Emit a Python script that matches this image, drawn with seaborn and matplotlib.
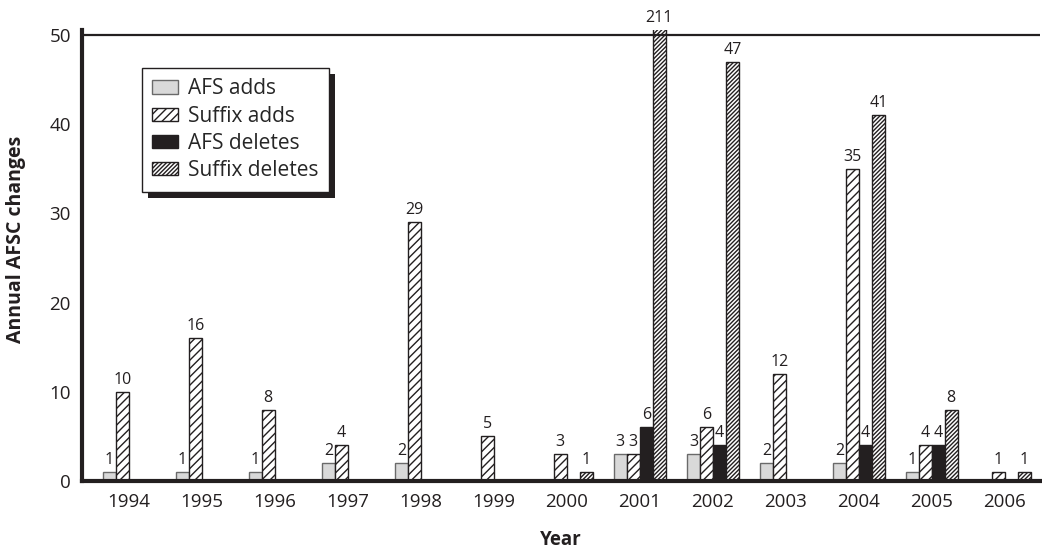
import pandas as pd
import numpy as np
import matplotlib
matplotlib.use('Agg')
import matplotlib.pyplot as plt
import matplotlib.patches as mpatches
import seaborn as sns

years = ['1994', '1995', '1996', '1997', '1998', '1999', '2000',
         '2001', '2002', '2003', '2004', '2005', '2006']
afs_adds = [1, 1, 1, 2, 2, 0, 0, 3, 3, 2, 2, 1, 0]
suffix_adds = [10, 16, 8, 4, 29, 5, 3, 3, 6, 12, 35, 4, 1]
afs_deletes = [0, 0, 0, 0, 0, 0, 0, 6, 4, 0, 4, 4, 0]
suffix_deletes = [0, 0, 0, 0, 0, 0, 1, 211, 47, 0, 41, 8, 1]
series = ['AFS adds', 'Suffix adds', 'AFS deletes', 'Suffix deletes']

df = pd.concat([
    pd.DataFrame({'Year': years, 'Serie': s, 'Valor': v})
    for s, v in zip(series, [afs_adds, suffix_adds, afs_deletes, suffix_deletes])
])

sns.set_style('white')
plt.rcParams['font.family'] = ['Open Sans', 'DejaVu Sans']
plt.rcParams['hatch.linewidth'] = 1.0

fig = plt.figure(figsize=(10.42, 5.48), dpi=100)
ax = fig.add_axes([0.0787, 0.1223, 0.9193, 0.8237])

sns.barplot(data=df, x='Year', y='Valor', hue='Serie', hue_order=series,
            width=0.71, ax=ax, legend=False, errorbar=None)

# estilo de cada serie
estilos = {
    'AFS adds': dict(fc='#d9d9d9', ec='#6a6a6a', hatch=None),
    'Suffix adds': dict(fc='white', ec='#231f20', hatch='////'),
    'AFS deletes': dict(fc='#231f20', ec='#231f20', hatch=None),
    'Suffix deletes': dict(fc='white', ec='#231f20', hatch='////////'),
}
for cont, nome in zip(ax.containers, series):
    st = estilos[nome]
    for p in cont.patches:
        p.set_facecolor(st['fc'])
        p.set_edgecolor(st['ec'])
        p.set_linewidth(1.0)
        if st['hatch']:
            p.set_hatch(st['hatch'])

ymax = 50.6
ax.set_ylim(0, ymax)
ax.set_xlim(-0.64, 12.48)

# rotulos dos valores
for cont in ax.containers:
    for p in cont.patches:
        h = p.get_height()
        if h > 0:
            ax.text(p.get_x() + p.get_width() / 2, min(h, ymax) + 0.45, f'{int(h)}',
                    ha='center', va='bottom', fontsize=11.5, color='#231f20',
                    clip_on=False)

ax.axhline(50, color='#231f20', lw=1.6, zorder=3)
ax.set_yticks([0, 10, 20, 30, 40, 50])
ax.tick_params(axis='y', direction='in', length=13, width=1.5, labelsize=13.5,
               colors='#231f20', pad=8)
ax.tick_params(axis='x', length=0, labelsize=13.5, colors='#231f20', pad=9)
for s in ['top', 'right']:
    ax.spines[s].set_visible(False)
for s in ['left', 'bottom']:
    ax.spines[s].set_linewidth(3)
    ax.spines[s].set_color('#231f20')

ax.set_xlabel('Year', fontsize=13.5, fontweight='bold', labelpad=13, color='#231f20')
ax.set_ylabel('Annual AFSC changes', fontsize=14, fontweight='bold', color='#231f20')
ax.yaxis.set_label_coords(-0.058, 0.536)

leg = ax.legend(ax.containers, series, loc='upper left', bbox_to_anchor=(0.0626, 0.915),
                fontsize=15, frameon=True, fancybox=False, framealpha=1,
                edgecolor='#231f20', handlelength=1.25, handleheight=0.6,
                labelspacing=0.3, handletextpad=0.45, borderpad=0.5,
                borderaxespad=0)
leg.get_frame().set_linewidth(1.0)
leg.set_zorder(6)

# sombra da legenda
fig.canvas.draw()
bb = leg.get_window_extent()
inv = ax.transAxes.inverted()
(x0, y0), (x1, y1) = inv.transform([[bb.x0 + 6, bb.y0 - 6], [bb.x1 + 6, bb.y1 - 6]])
ax.add_patch(mpatches.Rectangle((x0, y0), x1 - x0, y1 - y0, transform=ax.transAxes,
                                facecolor='#231f20', edgecolor='none', zorder=5.5,
                                clip_on=False))

fig.savefig('out.png', dpi=100)
